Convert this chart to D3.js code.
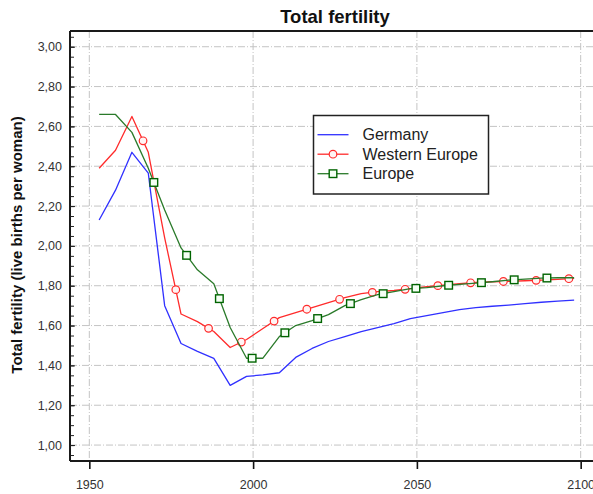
<!DOCTYPE html>
<html>
<head>
<meta charset="utf-8">
<script src="https://cdn.jsdelivr.net/npm/d3@7"></script>
<style>
  html, body { margin: 0; padding: 0; background: #fff; }
  svg { display: block; font-family: "Liberation Sans", Arial, sans-serif; }
</style>
</head>
<body>
<svg id="chart" width="593" height="494"></svg>
<script>
// Total fertility (live births per woman), five-year period points
const years = [1953, 1958, 1963, 1968, 1973, 1978, 1983, 1988, 1993, 1998,
               2003, 2008, 2013, 2018, 2023, 2028, 2033, 2038, 2043, 2048,
               2053, 2058, 2063, 2068, 2073, 2078, 2083, 2088, 2093, 2098];

const germany = [2.13, 2.28, 2.47, 2.365, 1.70, 1.51, 1.47, 1.435, 1.30, 1.345,
                 1.352, 1.363, 1.44, 1.485, 1.52, 1.545, 1.57, 1.59, 1.61, 1.635,
                 1.65, 1.665, 1.68, 1.69, 1.697, 1.703, 1.71, 1.717, 1.723, 1.728];

const westernEurope = [2.39, 2.48, 2.65, 2.47, 2.04, 1.658, 1.62, 1.57, 1.49, 1.53,
                       1.585, 1.64, 1.665, 1.69, 1.715, 1.74, 1.76, 1.77, 1.776, 1.785,
                       1.795, 1.803, 1.81, 1.817, 1.82, 1.822, 1.825, 1.828, 1.832, 1.837];

const europe = [2.66, 2.66, 2.57, 2.39, 2.18, 1.99, 1.88, 1.81, 1.59, 1.436,
                1.436, 1.545, 1.60, 1.625, 1.655, 1.70, 1.73, 1.755, 1.77, 1.785,
                1.79, 1.80, 1.807, 1.813, 1.82, 1.828, 1.833, 1.838, 1.84, 1.84];

// Years at which each series carries a symbol
const westernEuropeMarkerYears = [1966.4, 1976.4, 1986.4, 1996.4, 2006.4, 2016.4, 2026.4,
                                  2036.4, 2046.4, 2056.4, 2066.4, 2076.4, 2086.4, 2096.4];
const europeMarkerYears = [1969.7, 1979.7, 1989.7, 1999.7, 2009.7, 2019.7, 2029.7,
                           2039.7, 2049.7, 2059.7, 2069.7, 2079.7, 2089.7];

const xTicks = [1950, 2000, 2050, 2100];
const yTicks = [1.0, 1.2, 1.4, 1.6, 1.8, 2.0, 2.2, 2.4, 2.6, 2.8, 3.0];
const yMinorTicks = d3.range(0, 43).map(i => +(0.95 + i * 0.05).toFixed(2));

const seriesList = [
  { name: "Germany",        values: germany,       color: "#3030ff", marker: null,     markerYears: [] },
  { name: "Western Europe", values: westernEurope, color: "#ff2b2b", marker: "circle", markerYears: westernEuropeMarkerYears },
  { name: "Europe",         values: europe,        color: "#2a7a2a", marker: "square", markerYears: europeMarkerYears }
];

const svg = d3.select("#chart");
const plot = { left: 70, right: 600, top: 31, bottom: 461 };

const x = d3.scaleLinear().domain([1944.1, 2105.9]).range([plot.left, plot.right]);
const y = d3.scaleLinear().domain([0.92, 3.079]).range([plot.bottom, plot.top]);

// Clip region for the plotting area
svg.append("defs").append("clipPath").attr("id", "plotClip")
  .append("rect")
  .attr("x", plot.left).attr("y", plot.top)
  .attr("width", plot.right - plot.left).attr("height", plot.bottom - plot.top);

// Grid
const grid = svg.append("g").attr("stroke", "#c4c4c4").attr("stroke-width", 1)
  .attr("stroke-dasharray", "7,2,1,2").attr("clip-path", "url(#plotClip)");
grid.selectAll("line.h").data(yTicks).join("line").attr("class", "h")
  .attr("x1", plot.left).attr("x2", plot.right)
  .attr("y1", d => y(d)).attr("y2", d => y(d));
grid.selectAll("line.v").data(xTicks).join("line").attr("class", "v")
  .attr("x1", d => x(d)).attr("x2", d => x(d))
  .attr("y1", plot.top).attr("y2", plot.bottom);

// Lines
const valueAt = (vals, t) => {
  const i = Math.min(years.length - 2, Math.max(0, d3.bisectRight(years, t) - 1));
  const f = (t - years[i]) / (years[i + 1] - years[i]);
  return vals[i] + f * (vals[i + 1] - vals[i]);
};

const line = d3.line().x(d => x(d[0])).y(d => y(d[1]));
const lines = svg.append("g").attr("clip-path", "url(#plotClip)");

seriesList.forEach(s => {
  const pts = years.map((yr, i) => [yr, s.values[i]]);
  lines.append("path").datum(pts)
    .attr("fill", "none").attr("stroke", s.color).attr("stroke-width", 1.3)
    .attr("stroke-linejoin", "round").attr("d", line);

  const mk = s.markerYears.map(t => [t, valueAt(s.values, t)]);
  if (s.marker === "circle") {
    lines.append("g").selectAll("circle").data(mk).join("circle")
      .attr("cx", d => x(d[0])).attr("cy", d => y(d[1])).attr("r", 3.8)
      .attr("fill", "#fff4f4").attr("stroke", s.color).attr("stroke-width", 1.2);
  } else if (s.marker === "square") {
    lines.append("g").selectAll("rect").data(mk).join("rect")
      .attr("x", d => x(d[0]) - 3.8).attr("y", d => y(d[1]) - 3.8)
      .attr("width", 7.6).attr("height", 7.6)
      .attr("fill", "#f4fff4").attr("stroke", "#006400").attr("stroke-width", 1.4);
  }
});

// Y axis: major ticks with labels, minor ticks pointing into the plot
const yAxis = d3.axisLeft(y).tickValues(yTicks)
  .tickFormat(d => d3.format(".2f")(d).replace(".", ","))
  .tickSizeInner(-5).tickSizeOuter(0).tickPadding(8);
const yg = svg.append("g").attr("transform", `translate(${plot.left},0)`).call(yAxis);
yg.select(".domain").remove();
yg.selectAll(".tick line").attr("stroke", "#222");
yg.selectAll(".tick text").attr("font-size", 12.5).attr("fill", "#333")
  .attr("font-family", "Liberation Sans, Arial, sans-serif");

const yMinor = d3.axisLeft(y).tickValues(yMinorTicks).tickFormat("").tickSizeInner(-4).tickSizeOuter(0);
const ymg = svg.append("g").attr("transform", `translate(${plot.left},0)`).call(yMinor);
ymg.select(".domain").remove();
ymg.selectAll(".tick line").attr("stroke", "#222");

// X axis
const xAxis = d3.axisBottom(x).tickValues(xTicks).tickFormat(d3.format("d"))
  .tickSizeInner(8).tickSizeOuter(0).tickPadding(11);
const xg = svg.append("g").attr("transform", `translate(0,${plot.bottom})`).call(xAxis);
xg.select(".domain").remove();
xg.selectAll(".tick line").attr("stroke", "#111").attr("stroke-width", 1.6);
xg.selectAll(".tick text").attr("font-size", 12.5).attr("fill", "#333")
  .attr("font-family", "Liberation Sans, Arial, sans-serif");

// Frame
const frame = svg.append("g").attr("stroke", "#1a1a1a").attr("stroke-width", 2).attr("fill", "none");
frame.append("line").attr("x1", plot.left).attr("x2", plot.right).attr("y1", plot.top).attr("y2", plot.top);
frame.append("line").attr("x1", plot.left).attr("x2", plot.left).attr("y1", plot.top).attr("y2", plot.bottom);
frame.append("line").attr("x1", plot.left).attr("x2", plot.right).attr("y1", plot.bottom).attr("y2", plot.bottom);

// Title
svg.append("text").attr("x", 335).attr("y", 22.5).attr("text-anchor", "middle")
  .attr("font-size", 18.5).attr("font-weight", "bold").attr("fill", "#111")
  .text("Total fertility");

// Y axis title
svg.append("text")
  .attr("transform", "translate(22,245) rotate(-90)")
  .attr("text-anchor", "middle").attr("font-size", 15).attr("font-weight", "bold").attr("fill", "#111")
  .text("Total fertility (live births per woman)");

// Legend
const legend = svg.append("g");
legend.append("rect").attr("x", 313.5).attr("y", 115.5).attr("width", 175).attr("height", 78.5)
  .attr("fill", "#fff").attr("stroke", "#222").attr("stroke-width", 1.5);
seriesList.forEach((s, i) => {
  const cy = 134.7 + i * 19.5;
  legend.append("line").attr("x1", 317.5).attr("x2", 348.5).attr("y1", cy).attr("y2", cy)
    .attr("stroke", s.color).attr("stroke-width", 1.3);
  if (s.marker === "circle") {
    legend.append("circle").attr("cx", 333).attr("cy", cy).attr("r", 3.8)
      .attr("fill", "#fff4f4").attr("stroke", s.color).attr("stroke-width", 1.2);
  } else if (s.marker === "square") {
    legend.append("rect").attr("x", 333 - 3.8).attr("y", cy - 3.8).attr("width", 7.6).attr("height", 7.6)
      .attr("fill", "#f4fff4").attr("stroke", "#006400").attr("stroke-width", 1.4);
  }
  legend.append("text").attr("x", 362.5).attr("y", cy + 5.6)
    .attr("font-size", 16).attr("fill", "#222").text(s.name);
});
</script>
</body>
</html>
